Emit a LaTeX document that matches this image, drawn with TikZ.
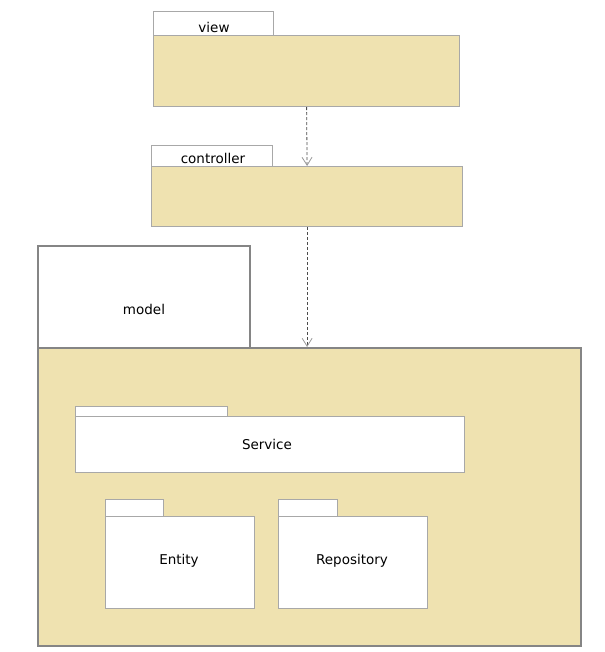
\documentclass[tikz,border=0pt]{standalone}
\usepackage{fontspec}
\setmainfont{DejaVu Sans}
\usetikzlibrary{arrows.meta}

\definecolor{pkgfill}{HTML}{EFE2B0}
\definecolor{pkgline}{HTML}{A8A8A8}
\definecolor{outerline}{HTML}{858585}

\tikzset{
  pkgbody/.style={draw=pkgline, fill=pkgfill, line width=1.2pt, inner sep=0pt,
                  anchor=north west},
  pkgtab/.style={draw=pkgline, fill=white, line width=1.2pt, inner sep=0pt,
                 anchor=north west},
  inner box/.style={draw=pkgline, fill=white, line width=1.2pt, inner sep=0pt,
                    anchor=north west},
  depends/.style={densely dashed, draw=black!70, line width=0.8pt,
                  -{Straight Barb[length=8pt,width=10pt,color=black!40,line width=0.8pt]}}
}

\begin{document}
\begin{tikzpicture}[x=1pt,y=-1pt,font=\fontsize{13.5}{16}\selectfont]
  \useasboundingbox (0,0) rectangle (604,652);

  % view
  \node[pkgtab, minimum width=120pt, minimum height=24pt] (viewtab) at (153,11) {};
  \node[pkgbody, minimum width=306pt, minimum height=71pt] (view) at (153,35) {};
  \node (viewlbl) at (214,27) {view};

  % controller
  \node[pkgtab, minimum width=121pt, minimum height=21pt] (ctrltab) at (151,145) {};
  \node[pkgbody, minimum width=311pt, minimum height=60pt] (controller) at (151,166) {};
  \node (ctrllbl) at (213,158) {controller};

  % model
  \node[pkgtab, draw=outerline, line width=2pt, minimum width=212pt, minimum height=102pt] (modeltab) at (37,245) {};
  \node[pkgbody, draw=outerline, line width=2pt, minimum width=543pt, minimum height=298pt] (model) at (37,347) {};
  \node (modellbl) at (144,309) {model};

  % service
  \node[inner box, minimum width=152pt, minimum height=10pt] (servicetab) at (75,406) {};
  \node[inner box, minimum width=389pt, minimum height=56pt] (service) at (75,416) {};
  \node (servicelbl) at (267,444) {Service};

  % entity
  \node[inner box, minimum width=58pt, minimum height=17pt] (entitytab) at (105,499) {};
  \node[inner box, minimum width=149pt, minimum height=92pt] (entity) at (105,516) {};
  \node (entitylbl) at (179,561) {Entity};

  % repository
  \node[inner box, minimum width=59pt, minimum height=17pt] (repotab) at (278,499) {};
  \node[inner box, minimum width=149pt, minimum height=92pt] (repository) at (278,516) {};
  \node (repolbl) at (352,561) {Repository};

  % dependencies
  \draw[depends] (view.south) -- (controller.north);
  \draw[depends] (controller.south) -- (controller.south |- model.north);
\end{tikzpicture}
\end{document}
